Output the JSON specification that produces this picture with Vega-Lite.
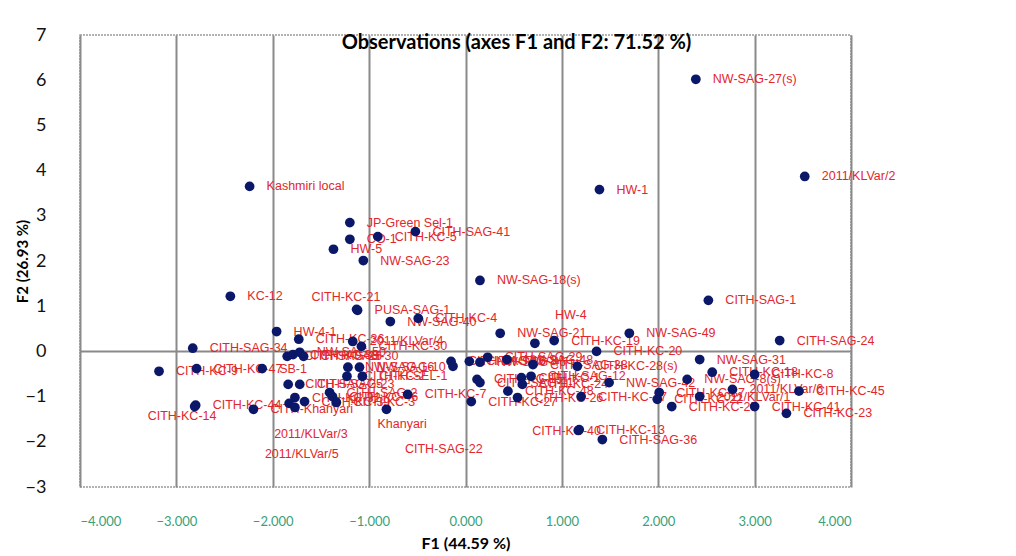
{
  "$schema": "https://vega.github.io/schema/vega-lite/v6.json",
  "width": 771,
  "height": 452,
  "autosize": {"type": "none"},
  "padding": {"left": 80, "top": 35, "right": 165, "bottom": 69},
  "background": "white",
  "title": {
    "text": "Observations (axes F1 and F2: 71.52 %)",
    "font": "Lato",
    "fontSize": 20,
    "fontWeight": "bold",
    "color": "#000000",
    "anchor": "middle",
    "dx": 51,
    "offset": -37,
    "baseline": "middle"
  },
  "config": {
    "view": {"stroke": "#9a9a9a", "strokeDash": [2, 1], "strokeWidth": 1.5}
  },
  "data": {
    "values": [
      {"name": "NW-SAG-27(s)", "F1": 2.39, "F2": 6.02},
      {"name": "2011/KLVar/2", "F1": 3.52, "F2": 3.87},
      {"name": "HW-1", "F1": 1.39, "F2": 3.58},
      {"name": "Kashmiri local", "F1": -2.24, "F2": 3.65},
      {"name": "JP-Green Sel-1", "F1": -1.20, "F2": 2.85},
      {"name": "CO-1", "F1": -1.20, "F2": 2.48},
      {"name": "CITH-KC-5", "F1": -0.91, "F2": 2.54},
      {"name": "CITH-SAG-41", "F1": -0.52, "F2": 2.65},
      {"name": "HW-5", "F1": -1.37, "F2": 2.26},
      {"name": "NW-SAG-23", "F1": -1.06, "F2": 2.01},
      {"name": "NW-SAG-18(s)", "F1": 0.15, "F2": 1.57},
      {"name": "KC-12", "F1": -2.44, "F2": 1.22},
      {"name": "CITH-SAG-1", "F1": 2.52, "F2": 1.13},
      {"name": "PUSA-SAG-1", "F1": -1.12, "F2": 0.91},
      {"name": "CITH-KC-21", "F1": -1.13, "F2": 0.93},
      {"name": "NW-SAG-40", "F1": -0.78, "F2": 0.66},
      {"name": "CITH-KC-4", "F1": -0.49, "F2": 0.73},
      {"name": "NW-SAG-21", "F1": 0.36, "F2": 0.40},
      {"name": "HW-4", "F1": 0.72, "F2": 0.18},
      {"name": "CITH-KC-19", "F1": 0.92, "F2": 0.24},
      {"name": "NW-SAG-49", "F1": 1.70, "F2": 0.40},
      {"name": "CITH-KC-20", "F1": 1.36, "F2": 0.00},
      {"name": "CITH-SAG-24", "F1": 3.26, "F2": 0.24},
      {"name": "HW-4-1", "F1": -1.96, "F2": 0.44},
      {"name": "CITH-SAG-34", "F1": -2.83, "F2": 0.07},
      {"name": "CITH-KC-9", "F1": -3.18, "F2": -0.44},
      {"name": "CITH-KC-47", "F1": -2.79, "F2": -0.38},
      {"name": "SB-1", "F1": -2.11, "F2": -0.38},
      {"name": "CITH-KC-44", "F1": -2.80, "F2": -1.19},
      {"name": "CITH-KC-14", "F1": -2.81, "F2": -1.22},
      {"name": "CITH-Khanyari", "F1": -2.20, "F2": -1.28},
      {"name": "CITH-KC-36", "F1": -1.73, "F2": 0.27},
      {"name": "CITH-SAG-26", "F1": -1.85, "F2": -0.11},
      {"name": "CITH-KC-38", "F1": -1.79, "F2": -0.07},
      {"name": "NW-SAG-50", "F1": -1.72, "F2": -0.02},
      {"name": "CITH-SAG-30", "F1": -1.68, "F2": -0.11},
      {"name": "CITH-SAG-25", "F1": -1.84, "F2": -0.73},
      {"name": "CITH-SAG-23", "F1": -1.72, "F2": -0.73},
      {"name": "CITH-KC-32", "F1": -1.77, "F2": -1.02},
      {"name": "2011/KLVar/3", "F1": -1.83, "F2": -1.15},
      {"name": "CITH-KC-39", "F1": -1.67, "F2": -1.11},
      {"name": "2011/KLVar/5", "F1": -1.77, "F2": -1.24},
      {"name": "CITH-SAG-2", "F1": -1.41, "F2": -0.91},
      {"name": "CITH-KC-46", "F1": -1.38, "F2": -1.00},
      {"name": "CITH-KC-3", "F1": -1.34, "F2": -1.13},
      {"name": "2011/KLVar/4", "F1": -1.17, "F2": 0.22},
      {"name": "CITH-KC-30", "F1": -1.08, "F2": 0.11},
      {"name": "NW-SAG-16", "F1": -1.22, "F2": -0.35},
      {"name": "CITH-KC-2", "F1": -1.23, "F2": -0.55},
      {"name": "NW-SAG-10", "F1": -1.10, "F2": -0.35},
      {"name": "CITH-SEL-1", "F1": -1.07, "F2": -0.55},
      {"name": "CITH-KC-7", "F1": -0.60, "F2": -0.95},
      {"name": "Khanyari", "F1": -0.82, "F2": -1.28},
      {"name": "CITH-SAG-16", "F1": -0.15, "F2": -0.22},
      {"name": "CITH-SAG-22", "F1": -0.13, "F2": -0.33},
      {"name": "CITH-SAG-8", "F1": 0.04, "F2": -0.22},
      {"name": "NW-SAG-46", "F1": 0.15, "F2": -0.24},
      {"name": "CITH-KC-15", "F1": 0.12, "F2": -0.62},
      {"name": "CITH-SAG-11", "F1": 0.15, "F2": -0.69},
      {"name": "CITH-KC-27", "F1": 0.06, "F2": -1.11},
      {"name": "CITH-SAG-29", "F1": 0.23, "F2": -0.13},
      {"name": "NW-SAG-48", "F1": 0.43, "F2": -0.18},
      {"name": "CITH-SAG-38", "F1": 0.70, "F2": -0.29},
      {"name": "CITH-KC-28(s)", "F1": 1.16, "F2": -0.33},
      {"name": "CITH-KC-1", "F1": 0.58, "F2": -0.58},
      {"name": "CITH-SAG-12", "F1": 0.68, "F2": -0.55},
      {"name": "CITH-KC-24", "F1": 0.59, "F2": -0.73},
      {"name": "CITH-KC-48", "F1": 0.44, "F2": -0.88},
      {"name": "CITH-KC-26", "F1": 0.54, "F2": -1.02},
      {"name": "CITH-KC-17", "F1": 1.20, "F2": -1.00},
      {"name": "NW-SAG-42", "F1": 1.49, "F2": -0.69},
      {"name": "CITH-KC-13", "F1": 1.18, "F2": -1.73},
      {"name": "CITH-KC-40", "F1": 1.17, "F2": -1.75},
      {"name": "CITH-SAG-36", "F1": 1.42, "F2": -1.95},
      {"name": "NW-SAG-31", "F1": 2.43, "F2": -0.18},
      {"name": "CITH-KC-18", "F1": 2.56, "F2": -0.46},
      {"name": "NW-SAG-8(s)", "F1": 2.30, "F2": -0.62},
      {"name": "CITH-KC-37", "F1": 2.01, "F2": -0.91},
      {"name": "CITH-KC-22", "F1": 1.99, "F2": -1.06},
      {"name": "CITH-KC-25", "F1": 2.14, "F2": -1.22},
      {"name": "2011/KLVar/1", "F1": 2.43, "F2": -1.00},
      {"name": "2011/KLVar/6", "F1": 2.77, "F2": -0.84},
      {"name": "CITH-KC-8", "F1": 3.00, "F2": -0.51},
      {"name": "CITH-KC-41", "F1": 3.00, "F2": -1.22},
      {"name": "CITH-KC-45", "F1": 3.46, "F2": -0.88},
      {"name": "CITH-KC-23", "F1": 3.33, "F2": -1.37}
    ]
  },
  "layer": [
    {
      "data": {"values": [{}]},
      "mark": {"type": "rule", "color": "#8a8a8a", "strokeWidth": 2},
      "encoding": {
        "y": {"datum": 0, "type": "quantitative", "axis": null}
      }
    },
    {
      "transform": [{"filter": "indexof(['CITH-KC-14','Khanyari','2011/KLVar/3','2011/KLVar/5','CITH-SAG-22','CITH-KC-21','HW-4','CITH-KC-40'], datum.name) < 0"}],
      "mark": {"type": "text", "align": "left", "baseline": "middle", "dx": 17, "fontSize": 12.5, "font": "Liberation Sans", "color": "#e3262b"},
      "encoding": {
        "x": {"field": "F1", "type": "quantitative"},
        "y": {"field": "F2", "type": "quantitative", "axis": null},
        "text": {"field": "name"}
      }
    },
    {
      "transform": [{"filter": "datum.name === 'CITH-KC-14'"}],
      "mark": {"type": "text", "align": "left", "baseline": "middle", "dx": -47, "dy": 9, "fontSize": 12.5, "font": "Liberation Sans", "color": "#e3262b"},
      "encoding": {"x": {"field": "F1", "type": "quantitative"}, "y": {"field": "F2", "type": "quantitative", "axis": null}, "text": {"field": "name"}}
    },
    {
      "transform": [{"filter": "datum.name === 'Khanyari'"}],
      "mark": {"type": "text", "align": "left", "baseline": "middle", "dx": -9, "dy": 15, "fontSize": 12.5, "font": "Liberation Sans", "color": "#e3262b"},
      "encoding": {"x": {"field": "F1", "type": "quantitative"}, "y": {"field": "F2", "type": "quantitative", "axis": null}, "text": {"field": "name"}}
    },
    {
      "transform": [{"filter": "datum.name === '2011/KLVar/3'"}],
      "mark": {"type": "text", "align": "left", "baseline": "middle", "dx": -15, "dy": 31, "fontSize": 12.5, "font": "Liberation Sans", "color": "#e3262b"},
      "encoding": {"x": {"field": "F1", "type": "quantitative"}, "y": {"field": "F2", "type": "quantitative", "axis": null}, "text": {"field": "name"}}
    },
    {
      "transform": [{"filter": "datum.name === '2011/KLVar/5'"}],
      "mark": {"type": "text", "align": "left", "baseline": "middle", "dx": -30, "dy": 47, "fontSize": 12.5, "font": "Liberation Sans", "color": "#e3262b"},
      "encoding": {"x": {"field": "F1", "type": "quantitative"}, "y": {"field": "F2", "type": "quantitative", "axis": null}, "text": {"field": "name"}}
    },
    {
      "transform": [{"filter": "datum.name === 'CITH-SAG-22'"}],
      "mark": {"type": "text", "align": "left", "baseline": "middle", "dx": -48, "dy": 83, "fontSize": 12.5, "font": "Liberation Sans", "color": "#e3262b"},
      "encoding": {"x": {"field": "F1", "type": "quantitative"}, "y": {"field": "F2", "type": "quantitative", "axis": null}, "text": {"field": "name"}}
    },
    {
      "transform": [{"filter": "datum.name === 'CITH-KC-21'"}],
      "mark": {"type": "text", "align": "left", "baseline": "middle", "dx": -45, "dy": -12, "fontSize": 12.5, "font": "Liberation Sans", "color": "#e3262b"},
      "encoding": {"x": {"field": "F1", "type": "quantitative"}, "y": {"field": "F2", "type": "quantitative", "axis": null}, "text": {"field": "name"}}
    },
    {
      "transform": [{"filter": "datum.name === 'HW-4'"}],
      "mark": {"type": "text", "align": "left", "baseline": "middle", "dx": 20, "dy": -28, "fontSize": 12.5, "font": "Liberation Sans", "color": "#e3262b"},
      "encoding": {"x": {"field": "F1", "type": "quantitative"}, "y": {"field": "F2", "type": "quantitative", "axis": null}, "text": {"field": "name"}}
    },
    {
      "transform": [{"filter": "datum.name === 'CITH-KC-40'"}],
      "mark": {"type": "text", "align": "left", "baseline": "middle", "dx": -46, "dy": 0, "fontSize": 12.5, "font": "Liberation Sans", "color": "#e3262b"},
      "encoding": {"x": {"field": "F1", "type": "quantitative"}, "y": {"field": "F2", "type": "quantitative", "axis": null}, "text": {"field": "name"}}
    },
    {
      "mark": {"type": "circle", "size": 95, "color": "#0b1869", "opacity": 1},
      "encoding": {
        "x": {
          "field": "F1",
          "type": "quantitative",
          "scale": {"domain": [-4, 4], "nice": false, "zero": false},
          "axis": {
            "values": [-4, -3, -2, -1, 0, 1, 2, 3, 4],
            "format": ".3f",
            "domain": false,
            "ticks": false,
            "tickSize": 0,
            "grid": true,
            "gridColor": "#8a8a8a",
            "gridWidth": 2,
            "gridOpacity": 1,
            "labelColor": "#3a9f78",
            "labelFont": "Lato",
            "labelFontSize": 13,
            "labelPadding": 28,
            "title": "F1 (44.59 %)",
            "titleFont": "Lato",
            "titleFontSize": 16,
            "titleFontWeight": "bold",
            "titleColor": "#000000",
            "titleY": 56,
            "titleBaseline": "middle"
          }
        },
        "y": {
          "field": "F2",
          "type": "quantitative",
          "scale": {"domain": [-3, 7], "nice": false, "zero": false},
          "axis": {
            "orient": "left",
            "values": [-3, -2, -1, 0, 1, 2, 3, 4, 5, 6, 7],
            "format": "d",
            "domain": false,
            "ticks": false,
            "tickSize": 0,
            "grid": false,
            "labelColor": "#111111",
            "labelFont": "Lato",
            "labelFontSize": 18,
            "labelPadding": 34,
            "title": "F2 (26.93 %)",
            "titleFont": "Lato",
            "titleFontSize": 15,
            "titleFontWeight": "bold",
            "titleColor": "#000000",
            "titleX": -58,
            "titleY": 226,
            "titleAngle": -90,
            "titleAlign": "center",
            "titleBaseline": "middle"
          }
        }
      }
    }
  ],
  "resolve": {"axis": {"y": "independent"}}
}
